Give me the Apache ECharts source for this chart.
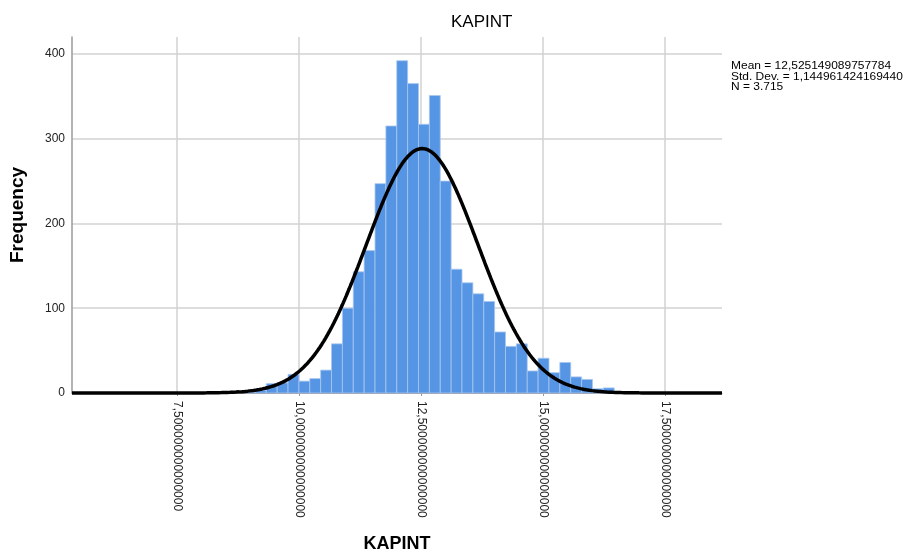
<!DOCTYPE html>
<html><head><meta charset="utf-8">
<script src="https://cdn.jsdelivr.net/npm/echarts@6/dist/echarts.min.js"></script>
<style>html,body{margin:0;padding:0;background:#fff}#c{width:911px;height:558px}</style>
</head><body><div id="c"></div>
<script>
const chartTitle = 'KAPINT';
const xAxisName = 'KAPINT';
const yAxisName = 'Frequency';
const binStart = 8.886;
const binWidth = 0.2228;
const counts = [1,3,11,12,22,14,17,27,58,100,143,168,247,315,392,365,317,351,250,146,130,117,108,72,55,58,26,41,24,36,19,16,5,6];
const statMean = 12.525149089757784;
const statSD = 1.144961424169440;
const statN = 3715;
const statLines = ['Mean = 12,525149089757784', 'Std. Dev. = 1,144961424169440', 'N = 3.715'];
const xTickValues = [7.5, 10, 12.5, 15, 17.5];
const xTickLabels = ['7,500000000000000', '10,000000000000000', '12,500000000000000', '15,000000000000000', '17,500000000000000'];
const yTickValues = [0, 100, 200, 300, 400];
const yTickLabels = ['0', '100', '200', '300', '400'];
const xMin = 5.35, xMax = 18.67, yMax = 420;

const bins = counts.map((c, i) => [binStart + i * binWidth, binStart + (i + 1) * binWidth, c]);
// fitted normal curve from the stated statistics
const curve = [];
const peak = statN * binWidth / (statSD * Math.sqrt(2 * Math.PI));
for (let k = 0; k <= 666; k++) {
  const x = xMin + (xMax - xMin) * k / 666;
  const z = (x - statMean) / statSD;
  curve.push([x, peak * Math.exp(-0.5 * z * z)]);
}

const chart = echarts.init(document.getElementById('c'), null, {renderer: 'canvas'});
chart.setOption({
  backgroundColor: '#fff',
  animation: false,
  title: {text: chartTitle, left: 446, top: 9, textStyle: {fontFamily: 'Arial', fontSize: 17, fontWeight: 'normal', color: '#000'}},
  grid: {left: 72, right: 189, top: 37, bottom: 165},
  xAxis: {
    type: 'value', min: xMin, max: xMax,
    name: xAxisName, nameLocation: 'middle', nameGap: 142,
    nameTextStyle: {fontFamily: 'Arial', fontSize: 18, fontWeight: 'bold', color: '#000'},
    axisLine: {show: true, lineStyle: {color: '#999', width: 1}},
    axisTick: {show: true, length: 3, customValues: xTickValues, lineStyle: {color: '#999'}},
    axisLabel: {customValues: xTickValues, rotate: -90, margin: 8, fontFamily: 'Arial', fontSize: 12, color: '#222',
      formatter: v => xTickLabels[xTickValues.indexOf(v)] || ''},
    splitLine: {show: true, lineStyle: {color: '#d2d2d2', width: 1.5}}
  },
  yAxis: {
    type: 'value', min: 0, max: yMax,
    name: yAxisName, nameLocation: 'middle', nameGap: 45,
    nameTextStyle: {fontFamily: 'Arial', fontSize: 19, fontWeight: 'bold', color: '#000'},
    axisLine: {show: true, lineStyle: {color: '#9a9a9a', width: 1.5}},
    axisTick: {show: false, customValues: yTickValues},
    axisLabel: {customValues: yTickValues, margin: 7, fontFamily: 'Arial', fontSize: 12, color: '#222',
      formatter: v => yTickLabels[yTickValues.indexOf(v)] || ''},
    splitLine: {show: true, lineStyle: {color: '#d2d2d2', width: 1.5}}
  },
  graphic: [{
    type: 'text', x: 731, y: 61, scaleX: 1.14,
    style: {text: statLines.join('\n'), font: '10.5px Arial', lineHeight: 10.5, fill: '#000'}
  }],
  series: [{
    type: 'custom',
    data: bins,
    encode: {x: [0, 1], y: 2},
    renderItem: function (params, api) {
      const p0 = api.coord([api.value(0), api.value(2)]);
      const p1 = api.coord([api.value(1), 0]);
      return {type: 'rect', shape: {x: p0[0], y: p0[1], width: p1[0] - p0[0], height: p1[1] - p0[1]},
        style: {fill: '#5695e4', stroke: '#a8c7f0', lineWidth: 0.8}};
    },
    z: 2
  }, {
    type: 'line', data: curve, showSymbol: false, symbol: 'none',
    lineStyle: {color: '#000', width: 3.5}, z: 3, clip: false
  }]
});
</script></body></html>
